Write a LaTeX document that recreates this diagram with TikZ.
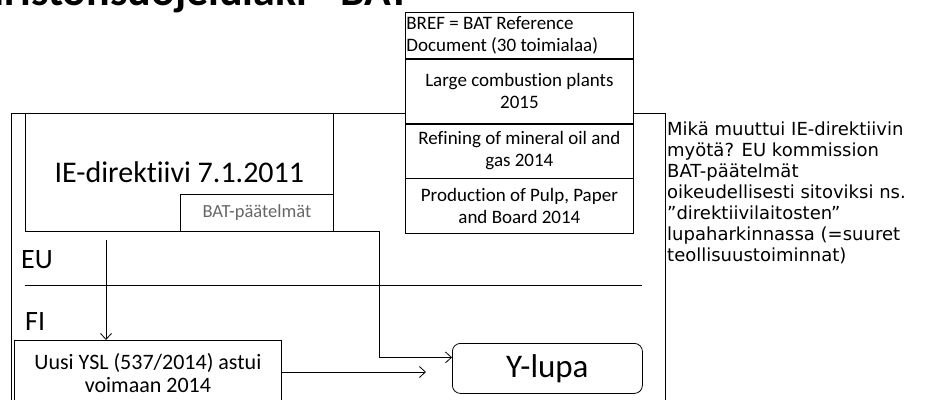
\documentclass[tikz,border=0pt]{standalone}
\usepackage{fontspec}
\setmainfont{Carlito}[Ligatures=NoCommon]
\newfontfamily\notefont{DejaVu Sans}
\usetikzlibrary{positioning,arrows.meta}

\begin{document}
\begin{tikzpicture}[
x=1pt, y=-1pt,
box/.style={rectangle, draw=black, line width=0.8pt, inner sep=0pt},
bref/.style={box, fill=white, minimum width=228pt, text width=226pt, align=flush center, font=\fontsize{19}{22}\selectfont},
area/.style={inner sep=0pt, font=\fontsize{28}{28}\selectfont},
arr/.style={-{Straight Barb[length=6pt,width=11pt]}, line width=0.8pt},
]
\useasboundingbox (0,0) rectangle (944,399);
\node[anchor=base east, inner sep=0pt, font=\bfseries\fontsize{44}{44}\selectfont] (title) at (410,5) {Ympäristönsuojelulaki - BAT};
\draw[line width=0.8pt] (11,113) rectangle (665,420);
\node[bref, anchor=north west, minimum height=46pt, align=flush left] (bref) at (405,12) {BREF = BAT Reference\\Document (30 toimialaa)};
\node[bref, below=0pt of bref, minimum height=64pt] (lcp) {Large combustion plants\\2015};
\node[bref, below=0pt of lcp, minimum height=54pt] (oil) {Refining of mineral oil and\\gas 2014};
\node[bref, below=0pt of oil, minimum height=55pt] (pulp) {Production of Pulp, Paper\\and Board 2014};
\node[box, anchor=north west, minimum width=308pt, minimum height=118pt, font=\fontsize{30}{30}\selectfont] (ie) at (25,113) {IE-direktiivi 7.1.2011};
\node[box, anchor=south east, minimum width=153pt, minimum height=37pt, text=black!60, font=\fontsize{18.5}{18.5}\selectfont] (bat) at (ie.south east) {BAT-päätelmät};
\node[area, anchor=base west] (eu) at (21,268) {EU};
\node[area, anchor=base west] (fi) at (25,330) {FI};
\draw[line width=0.8pt] (25,285) -- (642,285);
\node[box, anchor=north west, minimum width=267pt, minimum height=66pt, text width=260pt, align=flush center, font=\fontsize{22}{23}\selectfont] (ysl) at (14,340) {Uusi YSL (537/2014) astui\\voimaan 2014};
\node[box, rounded corners=8pt, anchor=north west, minimum width=190pt, minimum height=50pt, font=\fontsize{33}{33}\selectfont] (ylupa) at (452,343) {Y-lupa};
\node[anchor=north west, inner sep=0pt, align=flush left, font=\notefont\fontsize{18}{21}\selectfont] (note) at (667,122) {Mikä muuttui IE-direktiivin\\myötä? EU kommission\\BAT-päätelmät\\oikeudellisesti sitoviksi ns.\\”direktiivilaitosten”\\lupaharkinnassa (=suuret\\teollisuustoiminnat)};
\coordinate (yslend) at (426,372);
\draw[arr] ([xshift=81pt,yshift=-8pt]ie.south west) -- ([xshift=81pt]ie.south west |- ysl.north);
\draw[arr] (bat.south east) -- ++(46,0) |- ([yshift=11pt]ylupa.west);
\draw[arr] (ysl.east |- yslend) -- (yslend);
\end{tikzpicture}
\end{document}
